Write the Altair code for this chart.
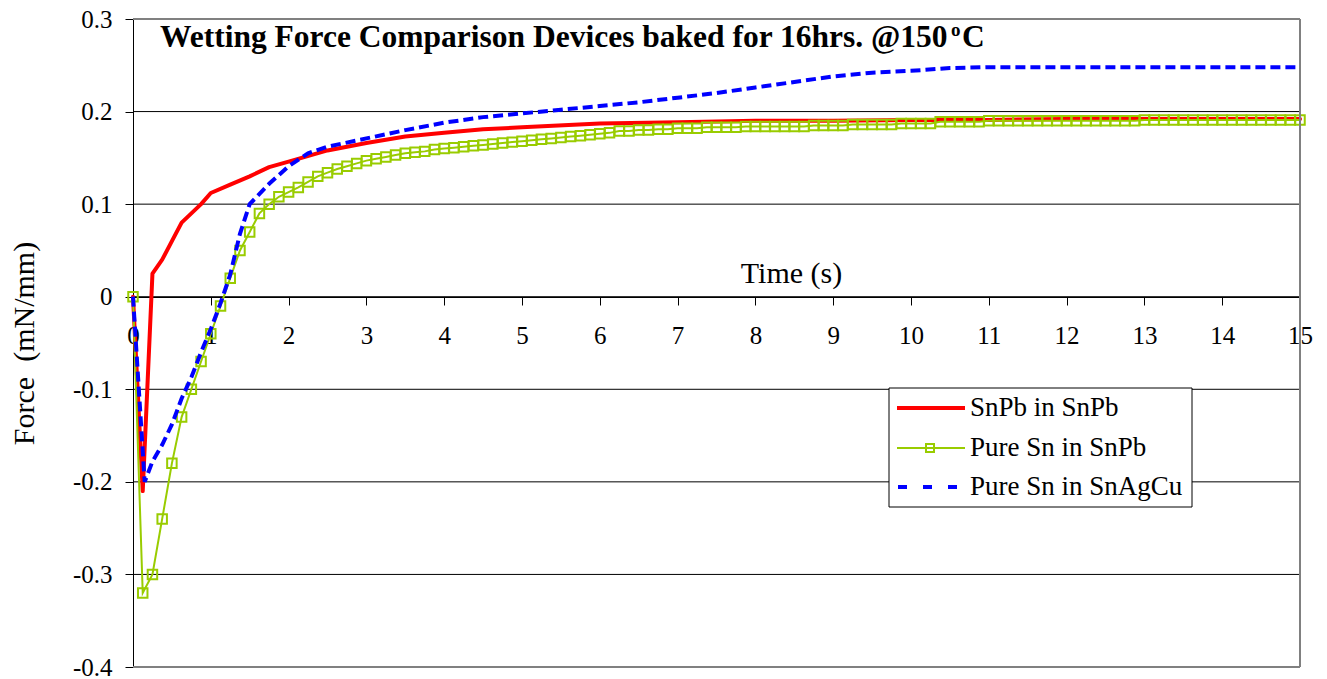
import altair as alt
import pandas as pd

FONT = "Liberation Serif, Times New Roman, Times, serif"

# ---------------- data ----------------
# SnPb in SnPb (red, solid)
red_t = [0, 0.125, 0.25, 0.375, 0.5, 0.625, 0.75, 0.875, 1.0, 1.25, 1.5, 1.75, 2.0, 2.5,
         3.0, 3.5, 4.0, 4.5, 5.0, 6.0, 7.0, 8.0, 9.0, 10.0, 11.0, 12.0, 13.0, 14.0, 15.0]
red_v = [0, -0.21, 0.025, 0.04, 0.06, 0.08, 0.09, 0.1, 0.112, 0.121, 0.13, 0.14, 0.146, 0.158,
         0.166, 0.173, 0.177, 0.181, 0.183, 0.187, 0.1885, 0.19, 0.19, 0.191, 0.191, 0.192,
         0.192, 0.192, 0.192]

# Pure Sn in SnPb (green, square markers every 0.125 s)
green_t = [round(i * 0.125, 3) for i in range(121)]
green_v = [
    0.000, -0.320, -0.300, -0.240, -0.180, -0.130, -0.100, -0.070,
    -0.040, -0.010, 0.020, 0.050, 0.070, 0.090, 0.100, 0.108,
    0.113, 0.118, 0.124, 0.130, 0.134, 0.138, 0.141, 0.144,
    0.147, 0.149, 0.151, 0.153, 0.155, 0.156, 0.157, 0.159,
    0.160, 0.161, 0.162, 0.163, 0.164, 0.165, 0.166, 0.167,
    0.168, 0.169, 0.170, 0.171, 0.172, 0.173, 0.174, 0.175,
    0.176, 0.177, 0.179, 0.179, 0.180, 0.180, 0.181, 0.181,
    0.182, 0.182, 0.182, 0.183, 0.183, 0.183, 0.183, 0.184,
    0.184, 0.184, 0.184, 0.184, 0.184, 0.184, 0.185, 0.185,
    0.185, 0.185, 0.186, 0.186, 0.186, 0.186, 0.186, 0.187,
    0.187, 0.187, 0.187, 0.189, 0.189, 0.189, 0.189, 0.189,
    0.190, 0.190, 0.190, 0.190, 0.190, 0.190, 0.190, 0.190,
    0.190, 0.190, 0.190, 0.190, 0.190, 0.190, 0.190, 0.190,
    0.191, 0.191, 0.191, 0.191, 0.191, 0.191, 0.191, 0.191,
    0.191, 0.191, 0.191, 0.191, 0.191, 0.191, 0.191, 0.191,
    0.191,
]

# Pure Sn in SnAgCu (blue, dashed)
blue_t = [0, 0.15, 0.25, 0.375, 0.5, 0.625, 0.75, 0.875, 1.0, 1.125, 1.25, 1.375, 1.5,
          1.75, 2.0, 2.25, 2.5, 3.0, 3.5, 4.0, 4.5, 5.0, 5.5, 6.0, 6.5, 7.0, 7.5, 8.0,
          8.5, 9.0, 9.5, 10.0, 10.5, 11.0, 11.5, 12.0, 13.0, 14.0, 15.0]
blue_v = [0, -0.2, -0.178, -0.16, -0.138, -0.11, -0.087, -0.06, -0.035, -0.007, 0.024,
          0.068, 0.1, 0.122, 0.141, 0.155, 0.162, 0.171, 0.18, 0.188, 0.194, 0.198, 0.202,
          0.206, 0.21, 0.215, 0.22, 0.226, 0.232, 0.238, 0.242, 0.244, 0.247, 0.248, 0.248,
          0.248, 0.248, 0.248, 0.248]

x_ticks = list(range(16))
y_ticks = [-0.4, -0.3, -0.2, -0.1, 0, 0.1, 0.2, 0.3]
grid_vals = [-0.3, -0.2, -0.1, 0, 0.1, 0.2]
series_names = ["SnPb in SnPb", "Pure Sn in SnPb", "Pure Sn in SnAgCu"]
series_colors = ["#FF0000", "#99CC00", "#0000FF"]
title_main = "Wetting Force Comparison Devices baked for 16hrs. @150"
title_sup = "o"
title_end = "C"

# ---------------- layout ----------------
W, H = 1167, 648

red_df = pd.DataFrame({"t": red_t, "v": red_v})
green_df = pd.DataFrame({"t": green_t, "v": green_v})
blue_df = pd.DataFrame({"t": blue_t, "v": blue_v})
grid_df = pd.DataFrame({"v": grid_vals})
one = pd.DataFrame({"k": [0]})

xscale = alt.Scale(domain=[0, 15], nice=False, zero=False)
yscale = alt.Scale(domain=[-0.4, 0.3], nice=False, zero=False)

x_axis = alt.Axis(
    values=x_ticks, offset=-370, grid=False,
    domainColor="#000000", domainWidth=1, tickColor="#000000", tickSize=8, tickWidth=1,
    labelFont=FONT, labelFontSize=25, labelColor="#000000", labelPadding=38,
    labelBaseline="alphabetic", labelFlush=False, labelOverlap=False,
    title="Time (s)", titleFont=FONT, titleFontSize=30, titleFontWeight="normal",
    titleColor="#000000", titleX=658, titleY=-15, titleAlign="center",
    titleBaseline="alphabetic",
)
y_axis = alt.Axis(
    values=y_ticks, grid=False,
    domainColor="#000000", domainWidth=1, tickColor="#000000", tickSize=8, tickWidth=1,
    labelFont=FONT, labelFontSize=25, labelColor="#000000", labelPadding=13,
    labelExpr="'' + datum.value", labelFlush=False, labelOverlap=False,
    title="Force\u00a0 (mN/mm)", titleFont=FONT, titleFontSize=30, titleFontWeight="normal",
    titleColor="#000000", titleAngle=-90, titleX=-100, titleY=H / 2, titleAlign="center",
    titleBaseline="alphabetic",
)

X = alt.X("t:Q", scale=xscale, axis=x_axis)
Y = alt.Y("v:Q", scale=yscale, axis=y_axis)

# horizontal gridlines
grid = alt.Chart(grid_df).mark_rule(color="#000000", strokeWidth=1).encode(y=Y)

red_line = alt.Chart(red_df).mark_line(
    color=series_colors[0], strokeWidth=4, strokeJoin="round", strokeCap="round"
).encode(x=X, y=Y)

green_line = alt.Chart(green_df).mark_line(
    color=series_colors[1], strokeWidth=2
).encode(x=X, y=Y)
green_pts = alt.Chart(green_df).mark_point(
    shape="square", size=90, filled=False, color=series_colors[1], strokeWidth=2, opacity=1
).encode(x=X, y=Y)

blue_line = alt.Chart(blue_df).mark_line(
    color=series_colors[2], strokeWidth=4, strokeDash=[10, 5], strokeCap="butt"
).encode(x=X, y=Y)

# plot-area frame (grey)
frame_top = alt.Chart(one).mark_rule(color="#808080", strokeWidth=2).encode(
    x=alt.value(0), x2=alt.value(W), y=alt.value(0))
frame_bottom = alt.Chart(one).mark_rule(color="#808080", strokeWidth=2).encode(
    x=alt.value(0), x2=alt.value(W), y=alt.value(H))
frame_right = alt.Chart(one).mark_rule(color="#808080", strokeWidth=2).encode(
    x=alt.value(W), y=alt.value(0), y2=alt.value(H))

# title inside the plot
t1 = alt.Chart(pd.DataFrame({"s": [title_main]})).mark_text(
    align="left", baseline="alphabetic", font=FONT, fontSize=31.5, fontWeight="bold", color="#000000"
).encode(x=alt.value(27), y=alt.value(28), text="s:N")
t2 = alt.Chart(pd.DataFrame({"s": [title_sup]})).mark_text(
    align="left", baseline="alphabetic", font=FONT, fontSize=19, fontWeight="bold", color="#000000"
).encode(x=alt.value(818), y=alt.value(17), text="s:N")
t3 = alt.Chart(pd.DataFrame({"s": [title_end]})).mark_text(
    align="left", baseline="alphabetic", font=FONT, fontSize=31.5, fontWeight="bold", color="#000000"
).encode(x=alt.value(829), y=alt.value(28), text="s:N")

# legend (manual, Excel style)
LX0, LX1, LY0, LY1 = 756, 1059, 369, 488
rows_y = [389, 429, 468]
leg_box = alt.Chart(one).mark_rect(fill="#FFFFFF", stroke="#000000", strokeWidth=1).encode(
    x=alt.value(LX0), x2=alt.value(LX1), y=alt.value(LY0), y2=alt.value(LY1))
leg_layers = [leg_box]
leg_layers.append(alt.Chart(one).mark_rule(color=series_colors[0], strokeWidth=4).encode(
    x=alt.value(764), x2=alt.value(832), y=alt.value(rows_y[0])))
leg_layers.append(alt.Chart(one).mark_rule(color=series_colors[1], strokeWidth=2).encode(
    x=alt.value(764), x2=alt.value(832), y=alt.value(rows_y[1])))
leg_layers.append(alt.Chart(one).mark_point(
    shape="square", size=64, filled=False, color=series_colors[1], strokeWidth=2, opacity=1
).encode(x=alt.value(797), y=alt.value(rows_y[1])))
leg_layers.append(alt.Chart(one).mark_rule(
    color=series_colors[2], strokeWidth=4, strokeDash=[9, 16]).encode(
    x=alt.value(765), x2=alt.value(832), y=alt.value(rows_y[2])))
for name, ry in zip(series_names, rows_y):
    leg_layers.append(alt.Chart(pd.DataFrame({"s": [name]})).mark_text(
        align="left", baseline="middle", font=FONT, fontSize=27, color="#000000"
    ).encode(x=alt.value(837), y=alt.value(ry), text="s:N"))

chart = alt.layer(
    grid, red_line, green_line, green_pts, blue_line, frame_top, frame_bottom, frame_right,
    t1, t2, t3, *leg_layers
).properties(
    width=W, height=H,
    autosize=alt.AutoSizeParams(type="none"),
    padding={"left": 125, "top": 11, "right": 19, "bottom": 12},
    background="#FFFFFF",
).configure_view(stroke=None)

chart.save("out.html", embed_options={"renderer": "svg", "actions": False})
